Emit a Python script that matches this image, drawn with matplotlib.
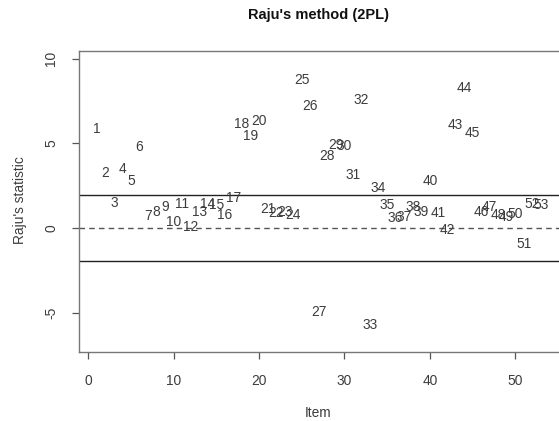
import matplotlib
matplotlib.use("Agg")
import matplotlib.pyplot as plt

plt.rcParams['font.family'] = ['Liberation Sans', 'DejaVu Sans']

# Raju's area statistic per item (2PL)
items = list(range(1, 54))
raju_stat = [
    5.86, 3.25, 1.48, 3.51, 2.76, 4.77, 0.75, 0.98, 1.28, 0.35,
    1.44, 0.06, 0.98, 1.44, 1.38, 0.79, 1.81, 6.15, 5.46, 6.31,
    1.14, 0.92, 0.98, 0.79, 8.73, 7.20, -4.93, 4.24, 4.93, 4.87,
    3.15, 7.55, -5.68, 2.40, 1.38, 0.59, 0.65, 1.28, 0.98, 2.80,
    0.92, -0.10, 6.11, 8.28, 5.62, 0.98, 1.28, 0.79, 0.69, 0.85,
    -0.95, 1.44, 1.38,
]
threshold = 1.96
x_ticks = [0, 10, 20, 30, 40, 50]
y_ticks = [-5, 0, 5, 10]

W, H = 559, 421
fig = plt.figure(figsize=(W / 100, H / 100), dpi=100)
ax = fig.add_axes([79.3 / W, 1 - 351.7 / H, (560.5 - 79.3) / W, (351.7 - 51) / H])

label_color = '#3c3c3c'
fs = 9.9
for i, v in zip(items, raju_stat):
    ax.text(i, v, str(i), ha='center', va='center', fontsize=fs, color=label_color)

ax.axhline(threshold, color='#222222', lw=1.0)
ax.axhline(-threshold, color='#222222', lw=1.0)
ax.axhline(0, color='#555555', lw=1.0, ls=(0, (4, 3)))

ax.set_xlim(-1.05, 55.3)
ax.set_ylim(-7.28, 10.45)

ax.set_xticks(x_ticks)
ax.set_yticks(y_ticks)
ax.set_yticklabels([str(t) for t in y_ticks], rotation=90, va='center')
ax.tick_params(axis='both', length=5.2, width=0.9, color='#555555',
               labelsize=fs, labelcolor=label_color)
ax.tick_params(axis='x', pad=10.5)
ax.tick_params(axis='y', pad=10)

for s in ax.spines.values():
    s.set_color('#777777')
    s.set_linewidth(1.0)

fig.text(318 / W, 1 - 15 / H, "Raju's method (2PL)", ha='center', va='center',
         fontsize=10.5, fontweight='bold', color='#111111')
fig.text(318 / W, 1 - 412.7 / H, 'Item', ha='center', va='center',
         fontsize=fs, color=label_color)
fig.text(20 / W, 1 - 200 / H, "Raju's statistic", ha='center', va='center',
         rotation=90, fontsize=fs, color=label_color)

fig.savefig('out.png', dpi=100)
